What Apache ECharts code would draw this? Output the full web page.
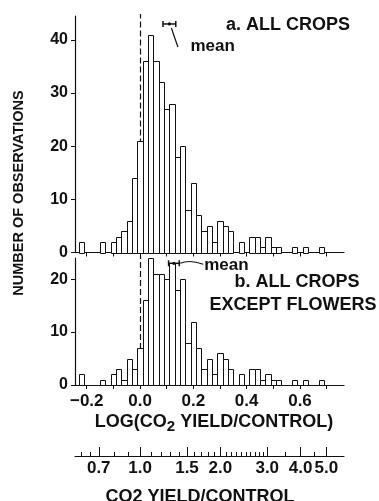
<!DOCTYPE html>
<html><head><meta charset="utf-8">
<script src="https://cdn.jsdelivr.net/npm/echarts@6/dist/echarts.min.js"></script>
<style>html,body{margin:0;padding:0;background:#fff}#c{width:379px;height:501px}</style>
</head><body><div id="c"></div>
<script>
// ---- data ----
const binCenters = [-0.22,-0.20,-0.18,-0.16,-0.14,-0.12,-0.10,-0.08,-0.06,-0.04,-0.02,0.00,
  0.02,0.04,0.06,0.08,0.10,0.12,0.14,0.16,0.18,0.20,0.22,0.24,0.26,0.28,0.30,0.32,0.34,0.36,
  0.38,0.40,0.42,0.44,0.46,0.48,0.50,0.52,0.54,0.56,0.58,0.60,0.62,0.64,0.66,0.68];
const binWidth = 0.02;
const countsAllCrops = [2,0,0,0,2,0,2,3,4,6,14,21,
  36,41,36,32,27,28,18,20,8,13,7,4,5,2,6,5,4,0,
  2,0,3,3,1,3,1,1,0,0,1,0,1,0,0,1];
const countsNoFlowers = [2,0,0,0,1,0,2,3,1,5,3,7,
  16,24,21,21,20,23,18,20,8,12,7,3,5,2,6,5,3,0,
  2,0,3,3,1,2,1,1,0,0,1,0,1,0,0,1];
const meanAll = 0.11, meanAllHalf = 0.024, meanAllLevel = 43;
const meanNoFl = 0.127, meanNoFlHalf = 0.02, meanNoFlLevel = 23;
const logTicks = [-0.2,-0.1,0,0.1,0.2,0.3,0.4,0.5,0.6,0.7];
const logLabels = [-0.2,0,0.2,0.4,0.6];
const yTicksA = [0,10,20,30,40];
const yTicksB = [0,10,20];
const ratioMajor = [0.7,1.0,1.5,2.0,3.0,4.0,5.0];
const ratioMajorText = ['0.7','1.0','1.5','2.0','3.0','4.0','5.0'];
const ratioMinor = [0.6,0.65,0.8,0.9,1.1,1.2,1.3,1.4,1.6,1.7,1.8,1.9,2.1,2.2,2.3,2.4,2.5,2.6,2.7,2.8,2.9,3.5,4.5];

// ---- chart ----
const FF = '"Liberation Sans", Arial, Helvetica, sans-serif';
const XMIN = -0.244, XMAX = 0.765;
const chart = echarts.init(document.getElementById('c'), null, {renderer:'canvas'});

function barItem(params, api){
  const x = api.value(0), y = api.value(1);
  if (!y) return null;
  const p0 = api.coord([x - binWidth/2, y]);
  const p1 = api.coord([x + binWidth/2, 0]);
  const x0 = Math.round(p0[0]) + 0.5, x1 = Math.round(p1[0]) + 0.5;
  const y0 = Math.round(p0[1]) + 0.5, y1 = Math.round(p1[1]) + 0.5;
  return {type:'rect', shape:{x:x0, y:y0, width:x1-x0, height:y1-y0},
    style:{fill:'#fff', stroke:'#111', lineWidth:1}};
}
function zeroLine(yTop){
  return function(params, api){
    const a = api.coord([0, 0]), b = api.coord([0, yTop]);
    const x = Math.round(a[0]) + 0.5;
    return {type:'line', shape:{x1:x, y1:a[1], x2:x, y2:b[1]-2},
      style:{stroke:'#111', lineWidth:1.2, lineDash:[6,3]}};
  };
}
function meanItem(half, kind){
  return function(params, api){
    const m = api.value(0), lv = api.value(1);
    const l = api.coord([m - half, lv]), r = api.coord([m + half, lv]), c = api.coord([m, lv]);
    const st = {stroke:'#111', lineWidth:1.5};
    const ch = [
      {type:'line', shape:{x1:l[0], y1:l[1], x2:r[0], y2:r[1]}, style:st},
      {type:'line', shape:{x1:l[0], y1:l[1]-3, x2:l[0], y2:l[1]+3}, style:st},
      {type:'line', shape:{x1:r[0], y1:r[1]-3, x2:r[0], y2:r[1]+3}, style:st},
      {type:'circle', shape:{cx:c[0], cy:c[1], r:1.6}, style:{fill:'#111'}}
    ];
    const ts = {fill:'#111', font:'bold 17px ' + FF, align:'left', verticalAlign:'middle',
      textAlign:'left', textVerticalAlign:'middle'};
    if (kind === 'a') {
      ch.push({type:'line', shape:{x1:c[0]+2, y1:c[1]+4, x2:c[0]+8.5, y2:c[1]+23}, style:{stroke:'#111', lineWidth:1.2}});
      ch.push({type:'text', style:Object.assign({text:'mean', x:c[0]+21, y:c[1]+22}, ts)});
    } else {
      ch.push({type:'bezierCurve', shape:{x1:r[0]+1, y1:r[1], cpx1:r[0]+8, cpy1:r[1]-3, cpx2:r[0]+16, cpy2:r[1]-2, x2:r[0]+24, y2:r[1]+1}, style:{stroke:'#111', lineWidth:1.2, fill:null}});
      ch.push({type:'text', style:Object.assign({text:'mean', x:r[0]+25, y:r[1]+2}, ts)});
    }
    return {type:'group', children:ch};
  };
}

const axisLineStyle = {color:'#111', width:1.2};
const labelStyle = {color:'#111', fontFamily:FF, fontWeight:'bold'};

// LOG(CO2 YIELD/CONTROL) pieces measured for subscript
const mctx = document.createElement('canvas').getContext('2d');
const mainFont = 'bold 18px ' + FF, subFont = 'bold 15px ' + FF;
mctx.font = mainFont; const w1 = mctx.measureText('LOG(CO').width; const w3 = mctx.measureText(' YIELD/CONTROL)').width;
mctx.font = subFont; const w2 = mctx.measureText('2').width;
const tCx = 214, tCy = 422;
const tx0 = tCx - (w1 + w2 + w3) / 2;
function gtext(text, x, y, font, align, extra){
  return Object.assign({type:'text', x:x, y:y, style:{text:text, font:font, fill:'#111',
    textAlign:align||'center', textVerticalAlign:'middle', align:align||'center', verticalAlign:'middle'}}, extra||{});
}

const option = {
  animation:false,
  backgroundColor:'#fff',
  grid:[
    {left:75, width:269, top:16, height:236.5, containLabel:false, outerBoundsMode:'none'},
    {left:75, width:269, top:258, height:127, containLabel:false, outerBoundsMode:'none'},
    {left:75, width:269, top:436, height:20, containLabel:false, outerBoundsMode:'none'}
  ],
  xAxis:[
    {gridIndex:0, type:'value', min:XMIN, max:XMAX, position:'bottom',
      axisLine:{show:true, onZero:false, lineStyle:axisLineStyle},
      axisTick:{show:true, customValues:logTicks, length:4, lineStyle:{color:'#111'}},
      axisLabel:{show:false}, splitLine:{show:false}},
    {gridIndex:1, type:'value', min:XMIN, max:XMAX, position:'bottom',
      axisLine:{show:true, onZero:false, lineStyle:axisLineStyle},
      axisTick:{show:true, customValues:logTicks, length:4, lineStyle:{color:'#111'}},
      axisLabel:Object.assign({show:true, customValues:logLabels, fontSize:17, margin:8,
        formatter:function(v){ return (v < 0 ? '\u2212' : '') + Math.abs(v).toFixed(1); }}, labelStyle),
      splitLine:{show:false}},
    {gridIndex:2, type:'value', min:XMIN, max:XMAX, position:'bottom',
      axisLine:{show:true, onZero:false, lineStyle:axisLineStyle},
      axisTick:{show:true, inside:true, customValues:ratioMinor.map(v=>Math.log10(v)), length:4, lineStyle:{color:'#111'}},
      axisLabel:{show:false}, splitLine:{show:false}},
    {gridIndex:2, type:'value', min:XMIN, max:XMAX, position:'bottom',
      axisLine:{show:false, onZero:false},
      axisTick:{show:true, inside:true, customValues:ratioMajor.map(v=>Math.log10(v)), length:9, lineStyle:{color:'#111'}},
      axisLabel:Object.assign({show:true, customValues:ratioMajor.map(v=>Math.log10(v)), fontSize:17, margin:4,
        formatter:function(v){ let k=0, best=1e9; ratioMajor.forEach((r,i)=>{const d=Math.abs(Math.log10(r)-v); if(d<best){best=d;k=i;}}); return ratioMajorText[k]; }}, labelStyle),
      splitLine:{show:false}}
  ],
  yAxis:[
    {gridIndex:0, type:'value', min:0, max:44.5,
      axisLine:{show:true, onZero:false, lineStyle:axisLineStyle},
      axisTick:{show:true, customValues:yTicksA, length:4, lineStyle:{color:'#111'}},
      axisLabel:Object.assign({customValues:yTicksA, fontSize:16, margin:7}, labelStyle),
      splitLine:{show:false}},
    {gridIndex:1, type:'value', min:0, max:24,
      axisLine:{show:true, onZero:false, lineStyle:axisLineStyle},
      axisTick:{show:true, customValues:yTicksB, length:4, lineStyle:{color:'#111'}},
      axisLabel:Object.assign({customValues:yTicksB, fontSize:16, margin:7}, labelStyle),
      splitLine:{show:false}},
    {gridIndex:2, type:'value', min:0, max:1, show:false}
  ],
  series:[
    {type:'custom', xAxisIndex:0, yAxisIndex:0, renderItem:zeroLine(44.5), data:[[0,0]], silent:true, clip:false},
    {type:'custom', xAxisIndex:1, yAxisIndex:1, renderItem:zeroLine(24), data:[[0,0]], silent:true, clip:false},
    {type:'custom', xAxisIndex:0, yAxisIndex:0, renderItem:barItem, clip:false,
      data:binCenters.map((c,i)=>[c, countsAllCrops[i]])},
    {type:'custom', xAxisIndex:1, yAxisIndex:1, renderItem:barItem, clip:false,
      data:binCenters.map((c,i)=>[c, countsNoFlowers[i]])},
    {type:'custom', xAxisIndex:0, yAxisIndex:0, renderItem:meanItem(meanAllHalf,'a'), clip:false,
      data:[[meanAll, meanAllLevel]]},
    {type:'custom', xAxisIndex:1, yAxisIndex:1, renderItem:meanItem(meanNoFlHalf,'b'), clip:false,
      data:[[meanNoFl, meanNoFlLevel]]}
  ],
  graphic:[
    gtext('a. ALL CROPS', 288, 25, 'bold 18px ' + FF),
    gtext('b. ALL CROPS', 297, 282, 'bold 18px ' + FF),
    gtext('EXCEPT FLOWERS', 293, 305, 'bold 18px ' + FF),
    gtext('NUMBER OF OBSERVATIONS', 19, 193, 'bold 14.5px ' + FF, 'center', {rotation:Math.PI/2}),
    gtext('LOG(CO', tx0, tCy, mainFont, 'left'),
    gtext('2', tx0 + w1, tCy + 5, subFont, 'left'),
    gtext(' YIELD/CONTROL)', tx0 + w1 + w2, tCy, mainFont, 'left'),
    gtext('CO2 YIELD/CONTROL', 200, 497, 'bold 18px ' + FF)
  ]
};
chart.setOption(option);
</script>
</body></html>
